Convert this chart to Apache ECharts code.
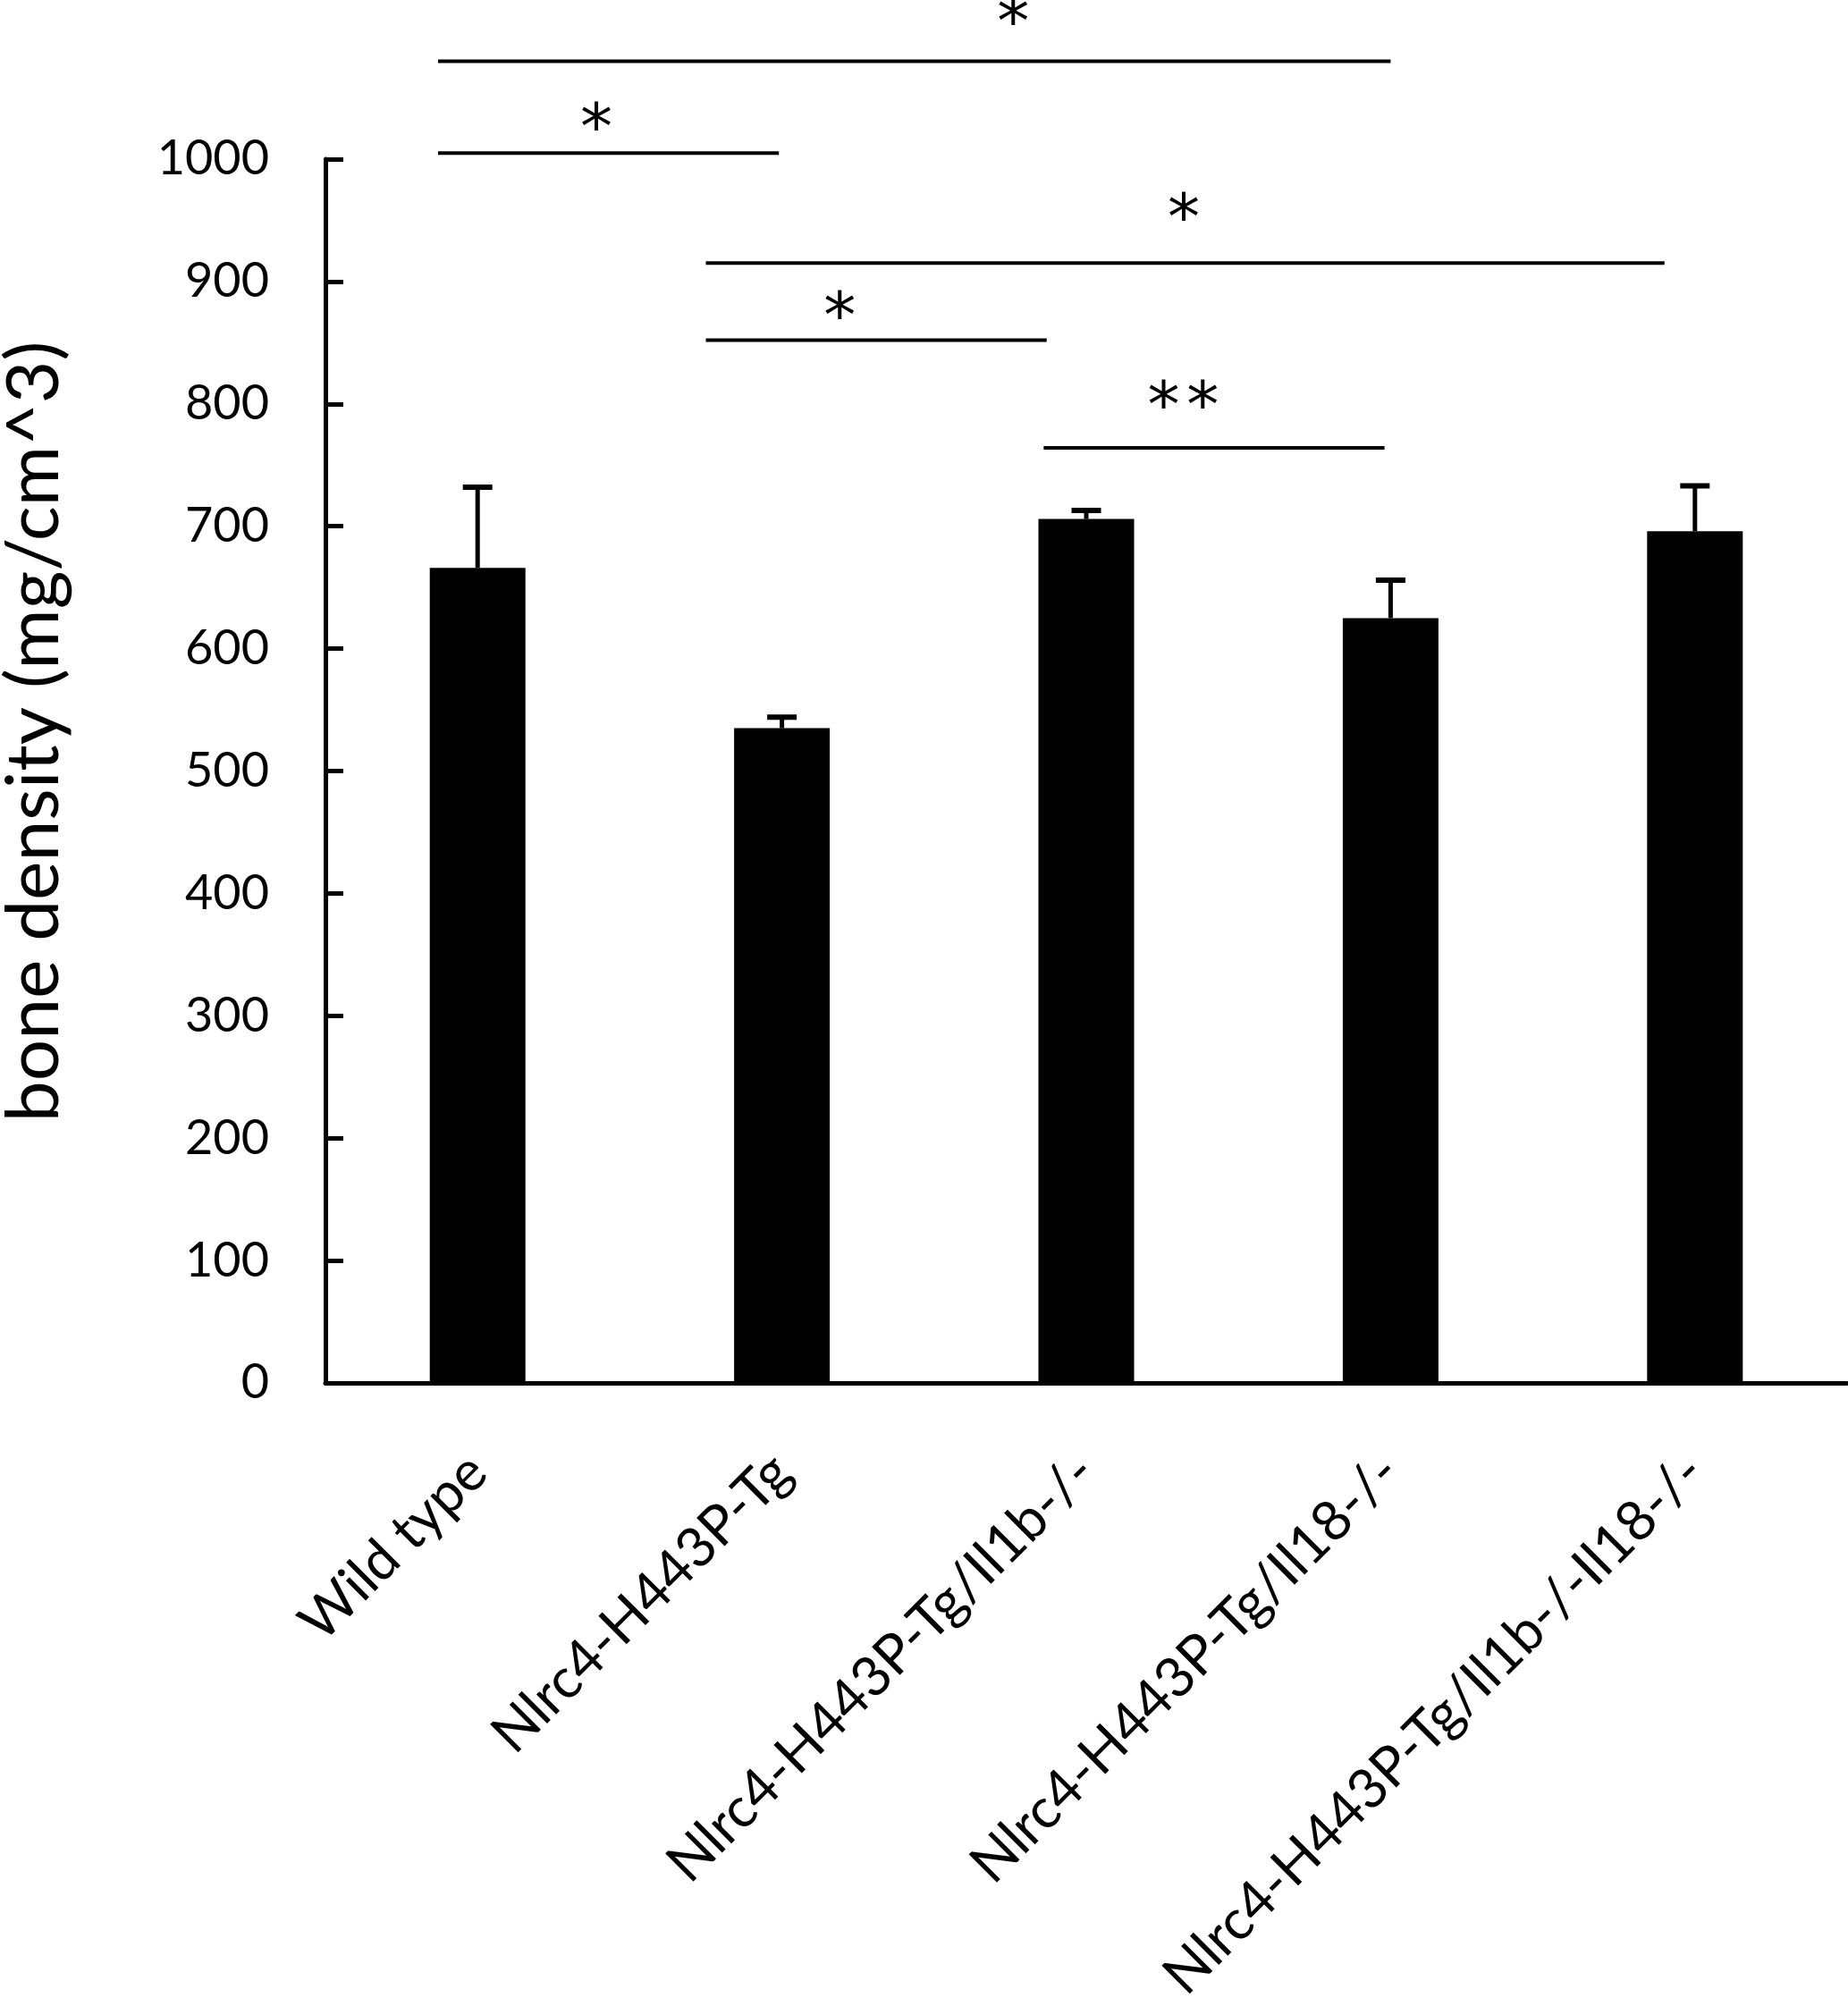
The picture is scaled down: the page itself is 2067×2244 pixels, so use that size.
<!DOCTYPE html>
<html>
<head>
<meta charset="utf-8">
<script src="https://cdn.jsdelivr.net/npm/echarts@6/dist/echarts.min.js"></script>
<style>
  html, body { margin: 0; padding: 0; background: #fff; }
  #chart { width: 2067px; height: 2244px; }
</style>
</head>
<body>
<div id="chart"></div>
<script>
const categories = [
  'Wild type',
  'Nlrc4-H443P-Tg',
  'Nlrc4-H443P-Tg/Il1b-/-',
  'Nlrc4-H443P-Tg/Il18-/-',
  'Nlrc4-H443P-Tg/Il1b-/-Il18-/-'
]
const means = [666, 535, 706, 625, 696]
const errors = [66, 9, 7, 31, 37]

// significance brackets, x in category index units
const bracketFrom = [-0.13, -0.13, 0.75, 0.75, 1.86]
const bracketTo = [3.0, 0.99, 3.9, 1.87, 2.98]
const bracketY = [1080, 1005, 915, 852, 764]
// asterisks (the "**" is two of them side by side)
const starX = [1.76, 0.39, 2.32, 1.19, 2.254, 2.383]
const starY = [1119, 1033, 959, 879, 806, 806]

const font = 'Lato'
const starSize = 72

const chart = echarts.init(document.getElementById('chart'))

chart.setOption({
  backgroundColor: '#fff',
  animation: false,
  grid: { left: 364, right: 1, top: 178, bottom: 697, outerBoundsMode: 'none' },
  xAxis: [
    {
      type: 'category',
      data: categories,
      axisLine: { lineStyle: { color: '#000', width: 5 } },
      axisTick: { show: false },
      axisLabel: {
        rotate: 45,
        margin: 90,
        color: '#000',
        fontFamily: font,
        fontSize: 62,
        interval: 0
      }
    },
    {
      type: 'value',
      min: -0.5,
      max: 4.5,
      show: false
    }
  ],
  yAxis: {
    type: 'value',
    min: 0,
    max: 1000,
    interval: 100,
    name: 'bone density (mg/cm^3)',
    nameLocation: 'middle',
    nameGap: 284,
    nameTextStyle: { color: '#000', fontFamily: font, fontSize: 82, padding: [0, 0, 0, 88] },
    splitLine: { show: false },
    axisLine: { show: true, onZero: false, lineStyle: { color: '#000', width: 5 } },
    axisTick: { show: true, inside: true, length: 20, lineStyle: { color: '#000', width: 5 } },
    axisLabel: {
      margin: 63,
      color: '#000',
      fontFamily: font,
      fontSize: 54,
      formatter: (v) => String(v)
    }
  },
  series: [
    {
      type: 'bar',
      data: means,
      barWidth: 107,
      itemStyle: { color: '#000' }
    },
    {
      type: 'custom',
      xAxisIndex: 0,
      data: means.map((m, i) => [i, m, m + errors[i]]),
      renderItem: (params, api) => {
        const base = api.coord([api.value(0), api.value(1)])
        const top = api.coord([api.value(0), api.value(2)])
        return {
          type: 'group',
          children: [
            { type: 'line', shape: { x1: base[0], y1: base[1], x2: top[0], y2: top[1] }, style: { stroke: '#000', lineWidth: 5 } },
            { type: 'line', shape: { x1: top[0] - 16.5, y1: top[1], x2: top[0] + 16.5, y2: top[1] }, style: { stroke: '#000', lineWidth: 6 } }
          ]
        }
      },
      z: 3
    },
    {
      type: 'custom',
      xAxisIndex: 1,
      clip: false,
      data: bracketY.map((y, i) => [bracketFrom[i], bracketTo[i], y]),
      renderItem: (params, api) => {
        const a = api.coord([api.value(0), api.value(2)])
        const b = api.coord([api.value(1), api.value(2)])
        return {
          type: 'line',
          shape: { x1: a[0], y1: a[1], x2: b[0], y2: b[1] },
          style: { stroke: '#000', lineWidth: 4 }
        }
      }
    },
    {
      type: 'custom',
      xAxisIndex: 1,
      clip: false,
      data: starY.map((y, i) => [starX[i], y]),
      renderItem: (params, api) => {
        const p = api.coord([api.value(0), api.value(1)])
        return {
          type: 'text',
          style: {
            text: '*',
            x: p[0],
            // asterisk sits high in the em box, push it down to centre the glyph
            y: p[1] + starSize * 0.2,
            fill: '#000',
            font: starSize + 'px "DejaVu Sans"',
            align: 'center',
            verticalAlign: 'middle'
          }
        }
      }
    }
  ]
})
</script>
</body>
</html>
